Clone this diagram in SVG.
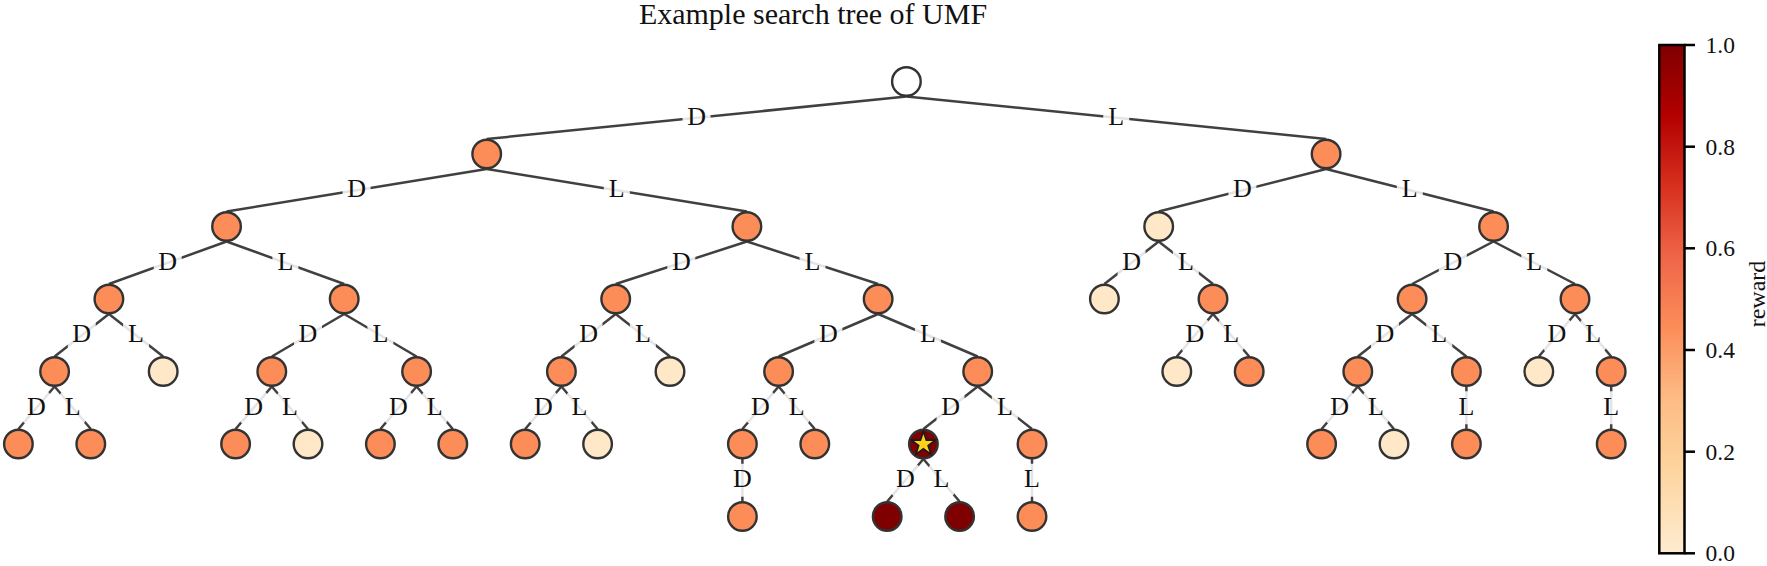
<svg xmlns="http://www.w3.org/2000/svg" width="1767" height="566" viewBox="0 0 1767 566">
<style>
.e{stroke:#404040;stroke-width:2.5;fill:none}
.lb{fill:#fff;fill-opacity:0.86}
.lt{font-family:"Liberation Serif","Times New Roman",serif;font-size:26px;fill:#111;text-anchor:middle}
.n{stroke:#333;stroke-width:2.4}
.o{fill:#fc8d59}
.p{fill:#fee8c8}
.r{fill:#7f0000}
.w{fill:#fff}
.tk{font-family:"Liberation Serif","Times New Roman",serif;font-size:23.5px;fill:#111}
</style>
<defs>
<linearGradient id="cmap" x1="0" y1="1" x2="0" y2="0">
<stop offset="0" stop-color="#feebce"/>
<stop offset="0.0278" stop-color="#fee8c8"/>
<stop offset="0.1667" stop-color="#fdd49e"/>
<stop offset="0.3056" stop-color="#fdbb84"/>
<stop offset="0.4444" stop-color="#fc8d59"/>
<stop offset="0.5833" stop-color="#ef6548"/>
<stop offset="0.7222" stop-color="#d7301f"/>
<stop offset="0.8611" stop-color="#b30000"/>
<stop offset="1" stop-color="#7f0000"/>
</linearGradient>
</defs>
<rect width="1767" height="566" fill="#fff"/>
<text x="813" y="23.5" font-family="Liberation Serif, Times New Roman, serif" font-size="30" text-anchor="middle" fill="#111">Example search tree of UMF</text>

<g id="connectors">
<line class="e" x1="906.4" y1="96.5" x2="486.7" y2="139"/>
<line class="e" x1="906.4" y1="96.5" x2="1326.1" y2="139"/>
<line class="e" x1="486.7" y1="169" x2="226.55" y2="211.5"/>
<line class="e" x1="486.7" y1="169" x2="746.9" y2="211.5"/>
<line class="e" x1="1326.1" y1="169" x2="1158.7" y2="211.5"/>
<line class="e" x1="1326.1" y1="169" x2="1493.55" y2="211.5"/>
<line class="e" x1="226.55" y1="241.5" x2="108.9" y2="284"/>
<line class="e" x1="226.55" y1="241.5" x2="344.2" y2="284"/>
<line class="e" x1="746.9" y1="241.5" x2="615.7" y2="284"/>
<line class="e" x1="746.9" y1="241.5" x2="878.15" y2="284"/>
<line class="e" x1="1158.7" y1="241.5" x2="1104.4" y2="284"/>
<line class="e" x1="1158.7" y1="241.5" x2="1213" y2="284"/>
<line class="e" x1="1493.55" y1="241.5" x2="1412.1" y2="284"/>
<line class="e" x1="1493.55" y1="241.5" x2="1575" y2="284"/>
<line class="e" x1="108.9" y1="314" x2="54.6" y2="356.5"/>
<line class="e" x1="108.9" y1="314" x2="163.2" y2="356.5"/>
<line class="e" x1="344.2" y1="314" x2="271.8" y2="356.5"/>
<line class="e" x1="344.2" y1="314" x2="416.6" y2="356.5"/>
<line class="e" x1="615.7" y1="314" x2="561.4" y2="356.5"/>
<line class="e" x1="615.7" y1="314" x2="670" y2="356.5"/>
<line class="e" x1="878.15" y1="314" x2="778.6" y2="356.5"/>
<line class="e" x1="878.15" y1="314" x2="977.7" y2="356.5"/>
<line class="e" x1="1213" y1="314" x2="1176.8" y2="356.5"/>
<line class="e" x1="1213" y1="314" x2="1249.2" y2="356.5"/>
<line class="e" x1="1412.1" y1="314" x2="1357.8" y2="356.5"/>
<line class="e" x1="1412.1" y1="314" x2="1466.4" y2="356.5"/>
<line class="e" x1="1575" y1="314" x2="1538.8" y2="356.5"/>
<line class="e" x1="1575" y1="314" x2="1611.2" y2="356.5"/>
<line class="e" x1="54.6" y1="386.5" x2="18.4" y2="429"/>
<line class="e" x1="54.6" y1="386.5" x2="90.8" y2="429"/>
<line class="e" x1="271.8" y1="386.5" x2="235.6" y2="429"/>
<line class="e" x1="271.8" y1="386.5" x2="308" y2="429"/>
<line class="e" x1="416.6" y1="386.5" x2="380.4" y2="429"/>
<line class="e" x1="416.6" y1="386.5" x2="452.8" y2="429"/>
<line class="e" x1="561.4" y1="386.5" x2="525.2" y2="429"/>
<line class="e" x1="561.4" y1="386.5" x2="597.6" y2="429"/>
<line class="e" x1="778.6" y1="386.5" x2="742.4" y2="429"/>
<line class="e" x1="778.6" y1="386.5" x2="814.8" y2="429"/>
<line class="e" x1="977.7" y1="386.5" x2="923.4" y2="429"/>
<line class="e" x1="977.7" y1="386.5" x2="1032" y2="429"/>
<line class="e" x1="1357.8" y1="386.5" x2="1321.6" y2="429"/>
<line class="e" x1="1357.8" y1="386.5" x2="1394" y2="429"/>
<line class="e" x1="1466.4" y1="386.5" x2="1466.4" y2="429"/>
<line class="e" x1="1611.2" y1="386.5" x2="1611.2" y2="429"/>
<line class="e" x1="742.4" y1="459" x2="742.4" y2="501.5"/>
<line class="e" x1="923.4" y1="459" x2="887.2" y2="501.5"/>
<line class="e" x1="923.4" y1="459" x2="959.6" y2="501.5"/>
<line class="e" x1="1032" y1="459" x2="1032" y2="501.5"/>
</g>

<g id="edge-labels">
<rect class="lb" x="682.55" y="101.25" width="28" height="33" rx="5"/><text class="lt" x="696.55" y="124.5">D</text>
<rect class="lb" x="1103.25" y="101.25" width="26" height="33" rx="5"/><text class="lt" x="1116.25" y="124.5">L</text>
<rect class="lb" x="342.6" y="173.75" width="28" height="33" rx="5"/><text class="lt" x="356.6" y="197">D</text>
<rect class="lb" x="603.8" y="173.75" width="26" height="33" rx="5"/><text class="lt" x="616.8" y="197">L</text>
<rect class="lb" x="1228.4" y="173.75" width="28" height="33" rx="5"/><text class="lt" x="1242.4" y="197">D</text>
<rect class="lb" x="1396.8" y="173.75" width="26" height="33" rx="5"/><text class="lt" x="1409.8" y="197">L</text>
<rect class="lb" x="153.7" y="246.25" width="28" height="33" rx="5"/><text class="lt" x="167.7" y="269.5">D</text>
<rect class="lb" x="272.4" y="246.25" width="26" height="33" rx="5"/><text class="lt" x="285.4" y="269.5">L</text>
<rect class="lb" x="667.3" y="246.25" width="28" height="33" rx="5"/><text class="lt" x="681.3" y="269.5">D</text>
<rect class="lb" x="799.5" y="246.25" width="26" height="33" rx="5"/><text class="lt" x="812.5" y="269.5">L</text>
<rect class="lb" x="1117.55" y="246.25" width="28" height="33" rx="5"/><text class="lt" x="1131.55" y="269.5">D</text>
<rect class="lb" x="1172.85" y="246.25" width="26" height="33" rx="5"/><text class="lt" x="1185.85" y="269.5">L</text>
<rect class="lb" x="1438.8" y="246.25" width="28" height="33" rx="5"/><text class="lt" x="1452.8" y="269.5">D</text>
<rect class="lb" x="1521.3" y="246.25" width="26" height="33" rx="5"/><text class="lt" x="1534.3" y="269.5">L</text>
<rect class="lb" x="67.75" y="318.75" width="28" height="33" rx="5"/><text class="lt" x="81.75" y="342">D</text>
<rect class="lb" x="123.05" y="318.75" width="26" height="33" rx="5"/><text class="lt" x="136.05" y="342">L</text>
<rect class="lb" x="294" y="318.75" width="28" height="33" rx="5"/><text class="lt" x="308" y="342">D</text>
<rect class="lb" x="367.4" y="318.75" width="26" height="33" rx="5"/><text class="lt" x="380.4" y="342">L</text>
<rect class="lb" x="574.55" y="318.75" width="28" height="33" rx="5"/><text class="lt" x="588.55" y="342">D</text>
<rect class="lb" x="629.85" y="318.75" width="26" height="33" rx="5"/><text class="lt" x="642.85" y="342">L</text>
<rect class="lb" x="814.4" y="318.75" width="28" height="33" rx="5"/><text class="lt" x="828.4" y="342">D</text>
<rect class="lb" x="914.9" y="318.75" width="26" height="33" rx="5"/><text class="lt" x="927.9" y="342">L</text>
<rect class="lb" x="1180.9" y="318.75" width="28" height="33" rx="5"/><text class="lt" x="1194.9" y="342">D</text>
<rect class="lb" x="1218.1" y="318.75" width="26" height="33" rx="5"/><text class="lt" x="1231.1" y="342">L</text>
<rect class="lb" x="1370.95" y="318.75" width="28" height="33" rx="5"/><text class="lt" x="1384.95" y="342">D</text>
<rect class="lb" x="1426.25" y="318.75" width="26" height="33" rx="5"/><text class="lt" x="1439.25" y="342">L</text>
<rect class="lb" x="1542.9" y="318.75" width="28" height="33" rx="5"/><text class="lt" x="1556.9" y="342">D</text>
<rect class="lb" x="1580.1" y="318.75" width="26" height="33" rx="5"/><text class="lt" x="1593.1" y="342">L</text>
<rect class="lb" x="22.5" y="391.25" width="28" height="33" rx="5"/><text class="lt" x="36.5" y="414.5">D</text>
<rect class="lb" x="59.7" y="391.25" width="26" height="33" rx="5"/><text class="lt" x="72.7" y="414.5">L</text>
<rect class="lb" x="239.7" y="391.25" width="28" height="33" rx="5"/><text class="lt" x="253.7" y="414.5">D</text>
<rect class="lb" x="276.9" y="391.25" width="26" height="33" rx="5"/><text class="lt" x="289.9" y="414.5">L</text>
<rect class="lb" x="384.5" y="391.25" width="28" height="33" rx="5"/><text class="lt" x="398.5" y="414.5">D</text>
<rect class="lb" x="421.7" y="391.25" width="26" height="33" rx="5"/><text class="lt" x="434.7" y="414.5">L</text>
<rect class="lb" x="529.3" y="391.25" width="28" height="33" rx="5"/><text class="lt" x="543.3" y="414.5">D</text>
<rect class="lb" x="566.5" y="391.25" width="26" height="33" rx="5"/><text class="lt" x="579.5" y="414.5">L</text>
<rect class="lb" x="746.5" y="391.25" width="28" height="33" rx="5"/><text class="lt" x="760.5" y="414.5">D</text>
<rect class="lb" x="783.7" y="391.25" width="26" height="33" rx="5"/><text class="lt" x="796.7" y="414.5">L</text>
<rect class="lb" x="936.55" y="391.25" width="28" height="33" rx="5"/><text class="lt" x="950.55" y="414.5">D</text>
<rect class="lb" x="991.85" y="391.25" width="26" height="33" rx="5"/><text class="lt" x="1004.85" y="414.5">L</text>
<rect class="lb" x="1325.7" y="391.25" width="28" height="33" rx="5"/><text class="lt" x="1339.7" y="414.5">D</text>
<rect class="lb" x="1362.9" y="391.25" width="26" height="33" rx="5"/><text class="lt" x="1375.9" y="414.5">L</text>
<rect class="lb" x="1453.4" y="391.25" width="26" height="33" rx="5"/><text class="lt" x="1466.4" y="414.5">L</text>
<rect class="lb" x="1598.2" y="391.25" width="26" height="33" rx="5"/><text class="lt" x="1611.2" y="414.5">L</text>
<rect class="lb" x="728.4" y="463.75" width="28" height="33" rx="5"/><text class="lt" x="742.4" y="487">D</text>
<rect class="lb" x="891.3" y="463.75" width="28" height="33" rx="5"/><text class="lt" x="905.3" y="487">D</text>
<rect class="lb" x="928.5" y="463.75" width="26" height="33" rx="5"/><text class="lt" x="941.5" y="487">L</text>
<rect class="lb" x="1019" y="463.75" width="26" height="33" rx="5"/><text class="lt" x="1032" y="487">L</text>
</g>

<g id="root"><circle class="n w" cx="906.4" cy="81.5" r="14.3"/></g>
<g id="n-D"><circle class="n o" cx="486.7" cy="154" r="14.3"/></g>
<g id="n-L"><circle class="n o" cx="1326.1" cy="154" r="14.3"/></g>
<g id="n-DD"><circle class="n o" cx="226.55" cy="226.5" r="14.3"/></g>
<g id="n-DL"><circle class="n o" cx="746.9" cy="226.5" r="14.3"/></g>
<g id="n-LD"><circle class="n p" cx="1158.7" cy="226.5" r="14.3"/></g>
<g id="n-LL"><circle class="n o" cx="1493.55" cy="226.5" r="14.3"/></g>
<g id="n-DDD"><circle class="n o" cx="108.9" cy="299" r="14.3"/></g>
<g id="n-DDL"><circle class="n o" cx="344.2" cy="299" r="14.3"/></g>
<g id="n-DLD"><circle class="n o" cx="615.7" cy="299" r="14.3"/></g>
<g id="n-DLL"><circle class="n o" cx="878.15" cy="299" r="14.3"/></g>
<g id="n-LDD"><circle class="n p" cx="1104.4" cy="299" r="14.3"/></g>
<g id="n-LDL"><circle class="n o" cx="1213" cy="299" r="14.3"/></g>
<g id="n-LLD"><circle class="n o" cx="1412.1" cy="299" r="14.3"/></g>
<g id="n-LLL"><circle class="n o" cx="1575" cy="299" r="14.3"/></g>
<g id="n-DDDD"><circle class="n o" cx="54.6" cy="371.5" r="14.3"/></g>
<g id="n-DDDL"><circle class="n p" cx="163.2" cy="371.5" r="14.3"/></g>
<g id="n-DDLD"><circle class="n o" cx="271.8" cy="371.5" r="14.3"/></g>
<g id="n-DDLL"><circle class="n o" cx="416.6" cy="371.5" r="14.3"/></g>
<g id="n-DLDD"><circle class="n o" cx="561.4" cy="371.5" r="14.3"/></g>
<g id="n-DLDL"><circle class="n p" cx="670" cy="371.5" r="14.3"/></g>
<g id="n-DLLD"><circle class="n o" cx="778.6" cy="371.5" r="14.3"/></g>
<g id="n-DLLL"><circle class="n o" cx="977.7" cy="371.5" r="14.3"/></g>
<g id="n-LDLD"><circle class="n p" cx="1176.8" cy="371.5" r="14.3"/></g>
<g id="n-LDLL"><circle class="n o" cx="1249.2" cy="371.5" r="14.3"/></g>
<g id="n-LLDD"><circle class="n o" cx="1357.8" cy="371.5" r="14.3"/></g>
<g id="n-LLDL"><circle class="n o" cx="1466.4" cy="371.5" r="14.3"/></g>
<g id="n-LLLD"><circle class="n p" cx="1538.8" cy="371.5" r="14.3"/></g>
<g id="n-LLLL"><circle class="n o" cx="1611.2" cy="371.5" r="14.3"/></g>
<g id="n-DDDDD"><circle class="n o" cx="18.4" cy="444" r="14.3"/></g>
<g id="n-DDDDL"><circle class="n o" cx="90.8" cy="444" r="14.3"/></g>
<g id="n-DDLDD"><circle class="n o" cx="235.6" cy="444" r="14.3"/></g>
<g id="n-DDLDL"><circle class="n p" cx="308" cy="444" r="14.3"/></g>
<g id="n-DDLLD"><circle class="n o" cx="380.4" cy="444" r="14.3"/></g>
<g id="n-DDLLL"><circle class="n o" cx="452.8" cy="444" r="14.3"/></g>
<g id="n-DLDDD"><circle class="n o" cx="525.2" cy="444" r="14.3"/></g>
<g id="n-DLDDL"><circle class="n p" cx="597.6" cy="444" r="14.3"/></g>
<g id="n-DLLDD"><circle class="n o" cx="742.4" cy="444" r="14.3"/></g>
<g id="n-DLLDL"><circle class="n o" cx="814.8" cy="444" r="14.3"/></g>
<g id="n-DLLLD"><circle class="n r" cx="923.4" cy="444" r="14.3"/><polygon points="923.4,431.5 926.3,440.1 935.3,440.1 928.1,445.5 930.8,454.1 923.4,448.8 916,454.1 918.7,445.5 911.5,440.1 920.5,440.1" fill="#ffd21a" stroke="#1a1a1a" stroke-width="1.6" stroke-linejoin="miter"/></g>
<g id="n-DLLLL"><circle class="n o" cx="1032" cy="444" r="14.3"/></g>
<g id="n-LLDDD"><circle class="n o" cx="1321.6" cy="444" r="14.3"/></g>
<g id="n-LLDDL"><circle class="n p" cx="1394" cy="444" r="14.3"/></g>
<g id="n-LLDLL"><circle class="n o" cx="1466.4" cy="444" r="14.3"/></g>
<g id="n-LLLLL"><circle class="n o" cx="1611.2" cy="444" r="14.3"/></g>
<g id="n-DLLDDD"><circle class="n o" cx="742.4" cy="516.5" r="14.3"/></g>
<g id="n-DLLLDD"><circle class="n r" cx="887.2" cy="516.5" r="14.3"/></g>
<g id="n-DLLLDL"><circle class="n r" cx="959.6" cy="516.5" r="14.3"/></g>
<g id="n-DLLLLL"><circle class="n o" cx="1032" cy="516.5" r="14.3"/></g>

<g id="colorbar">
<rect x="1659.3" y="45" width="25.2" height="508.3" fill="url(#cmap)" stroke="#000" stroke-width="2.5"/>
<g stroke="#000" stroke-width="2.5">
<line x1="1684.5" y1="45" x2="1695" y2="45"/>
<line x1="1684.5" y1="146.7" x2="1695" y2="146.7"/>
<line x1="1684.5" y1="248.3" x2="1695" y2="248.3"/>
<line x1="1684.5" y1="350" x2="1695" y2="350"/>
<line x1="1684.5" y1="451.7" x2="1695" y2="451.7"/>
<line x1="1684.5" y1="553.3" x2="1695" y2="553.3"/>
</g>
<text class="tk" x="1705.5" y="53">1.0</text>
<text class="tk" x="1705.5" y="154.7">0.8</text>
<text class="tk" x="1705.5" y="256.3">0.6</text>
<text class="tk" x="1705.5" y="358">0.4</text>
<text class="tk" x="1705.5" y="459.7">0.2</text>
<text class="tk" x="1705.5" y="561.3">0.0</text>
<text x="1765" y="294" transform="rotate(-90 1765 294)" font-family="Liberation Serif, Times New Roman, serif" font-size="24" text-anchor="middle" fill="#111">reward</text>
</g>
</svg>
